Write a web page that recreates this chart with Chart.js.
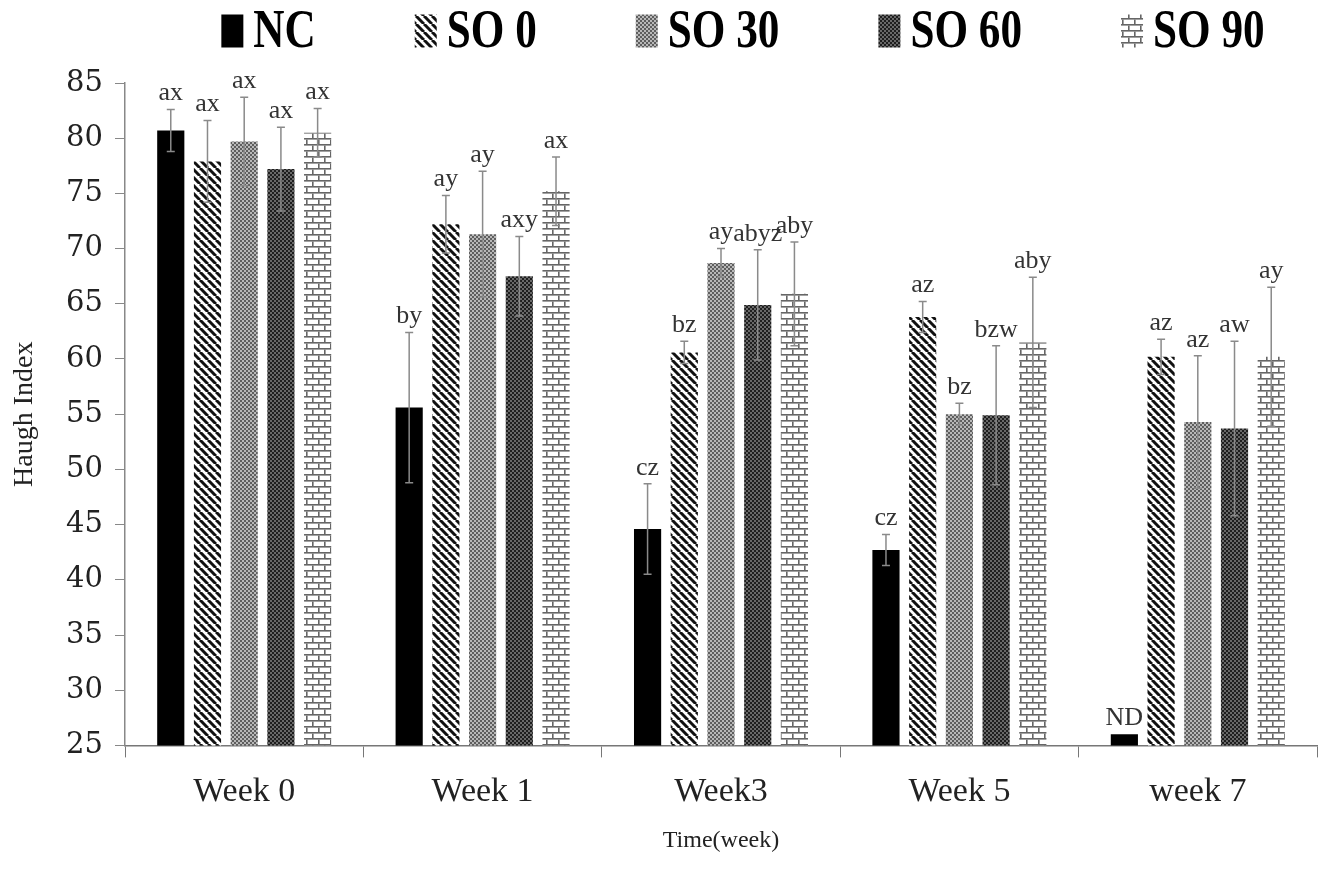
<!DOCTYPE html>
<html>
<head>
<meta charset="utf-8">
<title>Haugh Index</title>
<script src="https://cdn.jsdelivr.net/npm/chart.js@4.4.0/dist/chart.umd.min.js"></script>
<style>
  body { margin: 0; background: #fff; }
  #wrap { width: 1325px; height: 875px; }
</style>
</head>
<body>
<div id="wrap"><canvas id="haughChart"></canvas></div>
<script>
// data
const weeks = ["Week 0", "Week 1", "Week3", "Week 5", "week 7"];
const groups = ["NC", "SO 0", "SO 30", "SO 60", "SO 90"];

const ncMean = [80.7, 55.6, 44.6, 42.7, 26.0];
const so0Mean = [77.9, 72.2, 60.6, 63.8, 60.2];
const so30Mean = [79.7, 71.3, 68.7, 55.0, 54.3];
const so60Mean = [77.2, 67.5, 64.9, 54.9, 53.7];
const so90Mean = [80.5, 75.2, 65.9, 61.5, 60.2];

const ncErr = [1.9, 6.8, 4.1, 1.4, 0];
const so0Err = [3.7, 2.6, 1.0, 1.4, 1.6];
const so30Err = [4.0, 5.7, 1.3, 1.0, 6.0];
const so60Err = [3.8, 3.6, 5.0, 6.3, 7.9];
const so90Err = [2.2, 3.1, 4.7, 5.9, 6.3];

const ncLetters = ["ax", "by", "cz", "cz", "ND"];
const so0Letters = ["ax", "ay", "bz", "az", "az"];
const so30Letters = ["ax", "ay", "ay", "bz", "az"];
const so60Letters = ["ax", "axy", "abyz", "bzw", "aw"];
const so90Letters = ["ax", "ax", "aby", "aby", "ay"];

const serif = "'Liberation Serif', 'Times New Roman', serif";
const wideSerif = "'DejaVu Serif', serif";

// fill patterns
function makeTile(size, draw) {
  const c = document.createElement("canvas");
  c.width = size;
  c.height = size;
  const g = c.getContext("2d");
  draw(g, size);
  return document.getElementById("haughChart").getContext("2d").createPattern(c, "repeat");
}

const stripes = makeTile(8, (g, s) => {
  g.fillStyle = "#fff";
  g.fillRect(0, 0, s, s);
  g.strokeStyle = "#111";
  g.lineWidth = 3;
  for (let k = -1; k <= 1; k++) {
    g.beginPath();
    g.moveTo(k * s, 0);
    g.lineTo(k * s + s, s);
    g.stroke();
  }
});

const grayDots = makeTile(4, (g, s) => {
  g.fillStyle = "#b8b8b8";
  g.fillRect(0, 0, s, s);
  g.fillStyle = "#5e5e5e";
  g.fillRect(0, 0, 2, 2);
  g.fillRect(2, 2, 2, 2);
});

const darkDots = makeTile(4, (g, s) => {
  g.fillStyle = "#686868";
  g.fillRect(0, 0, s, s);
  g.fillStyle = "#1e1e1e";
  g.fillRect(0, 0, 2, 2);
  g.fillRect(2, 2, 2, 2);
});

const bricks = makeTile(12, (g, s) => {
  g.fillStyle = "#fff";
  g.fillRect(0, 0, s, s);
  g.fillStyle = "#666";
  g.fillRect(0, 0, s, 1.6);
  g.fillRect(0, 6, s, 1.6);
  g.fillRect(0, 1.6, 1.6, 4.4);
  g.fillRect(6, 7.6, 1.6, 4.4);
});

// error bars + significance letters
const errorBars = {
  id: "errorBars",
  afterDatasetsDraw(chart) {
    const ctx = chart.ctx;
    const y = chart.scales.y;
    ctx.save();
    chart.data.datasets.forEach((ds, i) => {
      const meta = chart.getDatasetMeta(i);
      meta.data.forEach((bar, j) => {
        const v = ds.data[j];
        const e = ds.errors[j];
        const top = y.getPixelForValue(v + e);
        if (e > 0) {
          const bot = y.getPixelForValue(v - e);
          ctx.strokeStyle = "#8a8a8a";
          ctx.lineWidth = 1.5;
          ctx.beginPath();
          ctx.moveTo(bar.x, top);
          ctx.lineTo(bar.x, bot);
          ctx.moveTo(bar.x - 4, top);
          ctx.lineTo(bar.x + 4, top);
          ctx.moveTo(bar.x - 4, bot);
          ctx.lineTo(bar.x + 4, bot);
          ctx.stroke();
        }
        ctx.fillStyle = "#333";
        ctx.font = "26px " + serif;
        ctx.textAlign = "center";
        ctx.textBaseline = "bottom";
        ctx.fillText(ds.letters[j], bar.x, top - 3);
      });
    });
    ctx.restore();
  }
};

// legend drawn with condensed bold text like the original
const topLegend = {
  id: "topLegend",
  afterDraw(chart) {
    const ctx = chart.ctx;
    const squeeze = 0.8;
    const boxW = 22, boxH = 33, gap = 10, spacing = 99;
    const cy = 31;
    ctx.save();
    ctx.font = "bold 54px " + serif;
    const widths = chart.data.datasets.map(ds => ctx.measureText(ds.label).width * squeeze);
    const total = widths.reduce((a, w) => a + boxW + gap + w, 0) + spacing * (widths.length - 1);
    let x = 743 - total / 2;
    chart.data.datasets.forEach((ds, i) => {
      ctx.fillStyle = ds.backgroundColor;
      ctx.fillRect(x, cy - boxH / 2, boxW, boxH);
      x += boxW + gap;
      ctx.save();
      ctx.translate(x, cy + 2);
      ctx.scale(squeeze, 1);
      ctx.fillStyle = "#000";
      ctx.textAlign = "left";
      ctx.textBaseline = "middle";
      ctx.fillText(ds.label, 0, 0);
      ctx.restore();
      x += widths[i] + spacing;
    });
    ctx.restore();
  }
};

new Chart(document.getElementById("haughChart"), {
  type: "bar",
  data: {
    labels: weeks,
    datasets: [
      { label: groups[0], data: ncMean, errors: ncErr, letters: ncLetters, backgroundColor: "#000" },
      { label: groups[1], data: so0Mean, errors: so0Err, letters: so0Letters, backgroundColor: stripes },
      { label: groups[2], data: so30Mean, errors: so30Err, letters: so30Letters, backgroundColor: grayDots },
      { label: groups[3], data: so60Mean, errors: so60Err, letters: so60Letters, backgroundColor: darkDots },
      { label: groups[4], data: so90Mean, errors: so90Err, letters: so90Letters, backgroundColor: bricks }
    ]
  },
  options: {
    responsive: true,
    maintainAspectRatio: false,
    animation: false,
    categoryPercentage: 0.77,
    barPercentage: 0.74,
    layout: { padding: { top: 83, right: 8, bottom: 20, left: 0 } },
    plugins: {
      legend: { display: false },
      tooltip: { enabled: false }
    },
    scales: {
      x: {
        border: { color: "#777", width: 1.5 },
        grid: { offset: true, drawOnChartArea: false, tickLength: 12, color: "#777" },
        ticks: { color: "#222", font: { family: serif, size: 34 }, padding: 14 },
        title: { display: true, text: "Time(week)", color: "#222", font: { family: serif, size: 24 }, padding: { top: 0, bottom: 0 } }
      },
      y: {
        min: 25,
        max: 85,
        border: { color: "#888", width: 1.5 },
        grid: { drawOnChartArea: false, tickLength: 10, color: "#888" },
        ticks: { stepSize: 5, color: "#222", font: { family: wideSerif, size: 29 }, padding: 12 },
        title: { display: true, text: "Haugh Index", color: "#222", font: { family: serif, size: 28 }, padding: { top: 8, bottom: 0 } },
        afterFit(scale) { scale.width = 125; }
      }
    }
  },
  plugins: [errorBars, topLegend]
});
</script>
</body>
</html>
